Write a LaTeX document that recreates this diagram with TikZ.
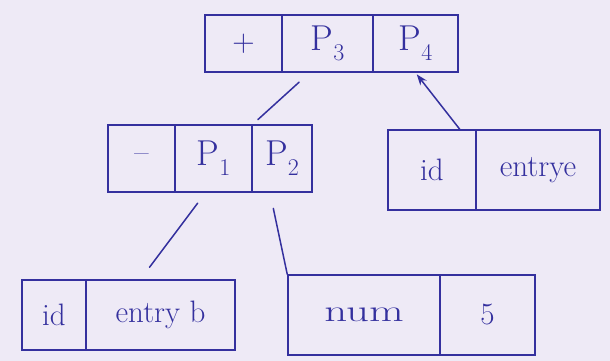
\documentclass[tikz,border=0pt]{standalone}
\usepackage{graphicx}
\usetikzlibrary{arrows.meta}
\definecolor{ink}{RGB}{52,48,158}
\definecolor{paper}{RGB}{238,234,246}
\newcommand{\pp}[1]{P\raisebox{-0.28em}{\fontsize{24}{28}\selectfont #1}}
\begin{document}
\begin{tikzpicture}[x=1pt,y=-1pt,
  cell/.style={draw=ink, line width=1.5pt, minimum height=#1, inner sep=0pt, text=ink, anchor=center},
  link/.style={draw=ink, line width=1.5pt, line cap=round},
  big/.style={font=\fontsize{36}{40}\selectfont},
  every node/.append style={font=\fontsize{31}{35}\selectfont}]
\fill[paper] (0,0) rectangle (610,361);
\useasboundingbox (0,0) rectangle (610,361);
% top node
\node[cell=57pt, minimum width=77pt] (plus) at (243.5,43.5) {+};
\node[cell=57pt, minimum width=91pt, big] (p3) at (327.5,43.5) {\pp{3}};
\node[cell=57pt, minimum width=85pt, big] (p4) at (415.5,43.5) {\pp{4}};
% middle node
\node[cell=67pt, minimum width=67pt] (minus) at (141.5,158.5) {--};
\node[cell=67pt, minimum width=77pt, big] (p1) at (213.5,158.5) {\pp{1}};
\node[cell=67pt, minimum width=60pt, big] (p2) at (282,158.5) {\pp{2}};
% right leaf
\node[cell=80pt, minimum width=88pt] (ide) at (432,170) {id};
\node[cell=80pt, minimum width=124pt] (entrye) at (538,170) {entrye};
% bottom-left leaf
\node[cell=70pt, minimum width=64pt] (idb) at (54,315) {id};
\node[cell=70pt, minimum width=149pt] (entryb) at (160.5,315) {entry b};
% bottom-right leaf
\node[cell=80pt, minimum width=152pt] (num) at (364,315) {\scalebox{1.45}[1]{num}};
\node[cell=80pt, minimum width=95pt] (five) at (487.5,315) {5};
% connectors
\draw[link, shorten <=14pt, shorten >=7pt] ([xshift=-18pt]p3.south) -- (p1.north east);
\draw[link, -{Stealth[length=11pt,width=8pt]}, shorten >=2pt] ([xshift=-17pt]ide.north east) -- (p4.south);
\draw[link, shorten <=13pt, shorten >=15pt] ([xshift=-8pt]p1.south) -- ([xshift=-20pt]entryb.north);
\draw[link, shorten <=16pt] ([xshift=-12pt]p2.south) -- (num.north west);
\end{tikzpicture}
\end{document}
